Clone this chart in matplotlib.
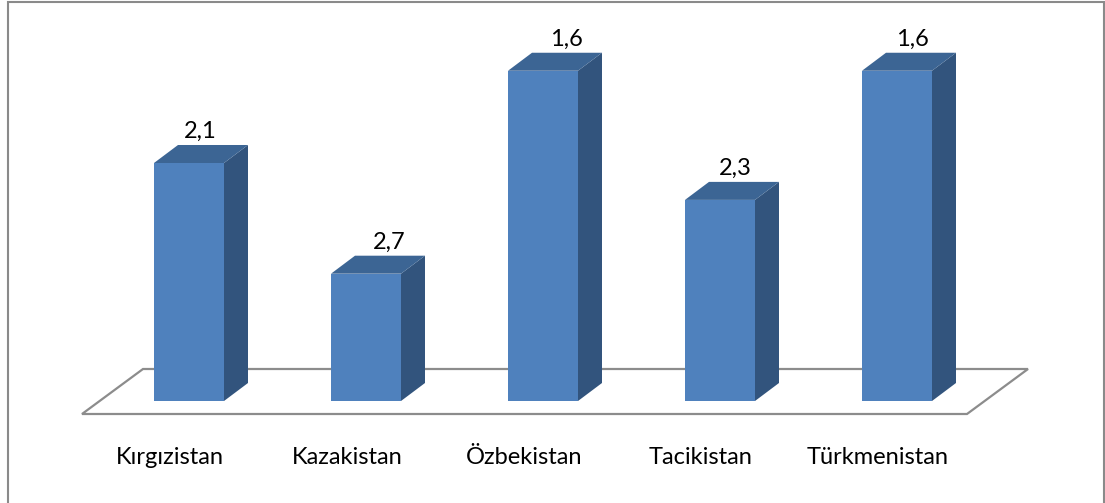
import matplotlib
matplotlib.use("Agg")
import matplotlib.pyplot as plt
from matplotlib.patches import Polygon, Rectangle
import numpy as np

countries = ["Kırgızistan", "Kazakistan", "Özbekistan", "Tacikistan", "Türkmenistan"]
values = [2.1, 2.7, 1.6, 2.3, 1.6]
value_labels = ["2,1", "2,7", "1,6", "2,3", "1,6"]

W, H = 1105, 503
fig = plt.figure(figsize=(W / 100, H / 100), dpi=100)
ax = fig.add_axes([0, 0, 1, 1])
ax.axis("off")

# layout in pixels
step_px = 177.0      # distance between categories
unit_px = 184.5      # px per value unit (axis is reversed)
x0_px = 189.0        # centre of first bar
base = 3.39          # value sitting on the floor
base_px = 401.0      # floor line of bars, from top
ax.set_xlim(-x0_px / step_px, (W - x0_px) / step_px)
ax.set_ylim(base + (H - base_px) / unit_px, base - base_px / unit_px)

def px_x(p):
    return p / step_px

def px_y(p):
    return p / unit_px

front = "#4F81BD"
side = "#32547D"
top = "#3C6594"
font = "Lato"

# floor
fl = px_x(82 - x0_px)
fr = px_x(967 - x0_px)
fy = base + px_y(13)
fdx, fdy = px_x(61), px_y(45)
floor = Polygon([(fl, fy), (fr, fy), (fr + fdx, fy - fdy), (fl + fdx, fy - fdy)],
                closed=True, facecolor="white", edgecolor="#8C8C8C", lw=1.6, zorder=1)
ax.add_patch(floor)

x = np.arange(len(values))
vals = np.array(values)
bw = px_x(70)
ddx, ddy = px_x(24), px_y(18)
ax.bar(x, vals - base, bottom=base, width=bw, color=front, zorder=3, lw=0)
for xi, v in zip(x, vals):
    xl, xr = xi - bw / 2, xi + bw / 2
    ax.add_patch(Polygon([(xr, base), (xr + ddx, base - ddy), (xr + ddx, v - ddy), (xr, v)],
                         closed=True, facecolor=side, lw=0, zorder=2))
    ax.add_patch(Polygon([(xl, v), (xr, v), (xr + ddx, v - ddy), (xl + ddx, v - ddy)],
                         closed=True, facecolor=top, lw=0, zorder=2))

# value labels (Excel places them slightly irregularly)
label_dx = [11, 23, 23, 15, 15]
for xi, v, lbl, d in zip(x, vals, value_labels, label_dx):
    ax.text(xi + px_x(d), v - ddy - px_y(7), lbl, ha="center", va="baseline",
            fontsize=17, family=font, color="black", zorder=5)

for xi, name in zip(x, countries):
    ax.text(xi - px_x(19), base + px_y(57), name, ha="center", va="center",
            fontsize=17, family=font, color="black")

# chart border
fig.patches.append(Rectangle((8 / W, -0.05), (1103.5 - 8) / W, 1.05 - 1.5 / H,
                             transform=fig.transFigure, fill=False,
                             edgecolor="#8A8A8A", lw=1.5))

fig.savefig("out.png", dpi=100)
